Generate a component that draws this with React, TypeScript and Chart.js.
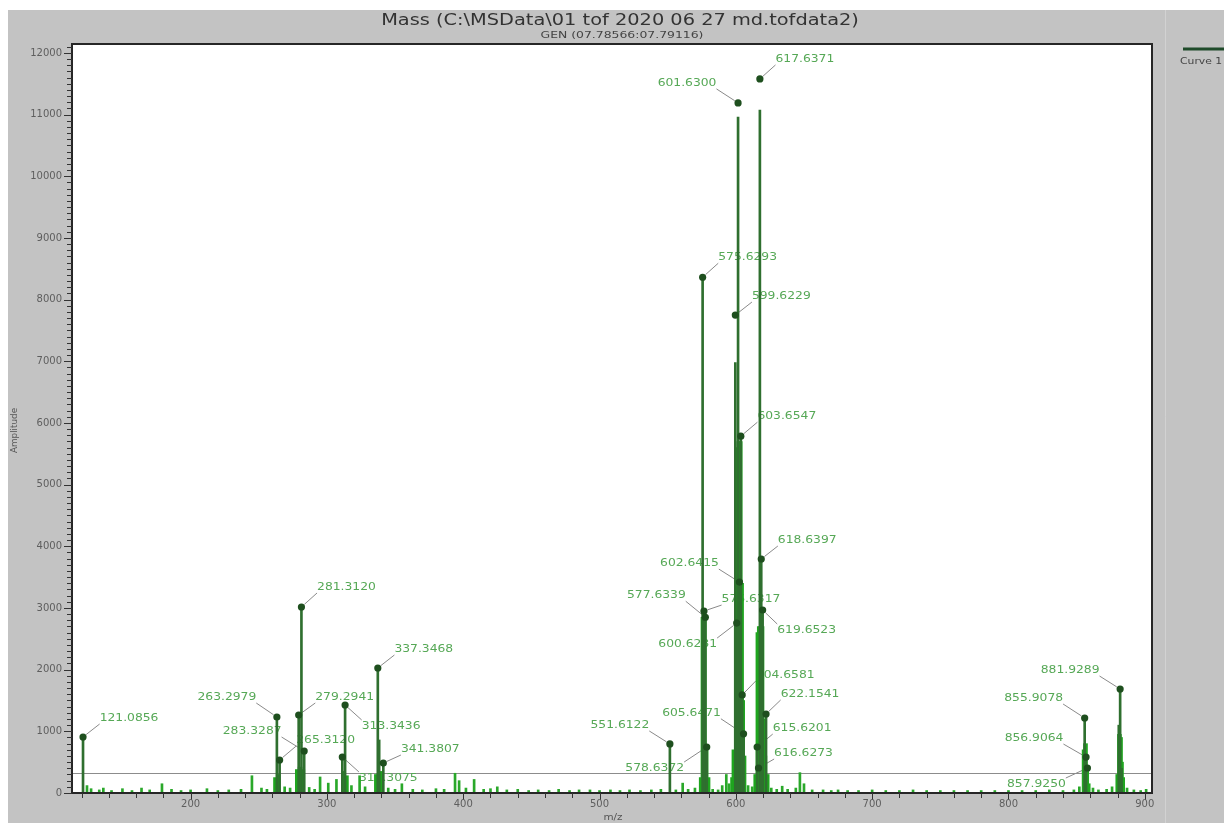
import React, { useEffect, useRef } from "react";
import { Chart, registerables } from "chart.js";

Chart.register(...registerables);

// ---------- text ----------
const TITLE = "Mass (C:\\MSData\\01 tof 2020 06 27 md.tofdata2)";
const SUBTITLE = "GEN (07.78566:07.79116)";
const X_TITLE = "m/z";
const Y_TITLE = "Amplitude";
const LEGEND_LABEL = "Curve 1";

// ---------- axes ----------
const X_MIN = 113;
const X_MAX = 905.3;
const Y_MIN = 0;
const Y_MAX = 12145;
const X_TICKS = [200, 300, 400, 500, 600, 700, 800, 900];
const X_MINOR_STEP = 20;
const Y_TICKS = [0, 1000, 2000, 3000, 4000, 5000, 6000, 7000, 8000, 9000, 10000, 11000, 12000];
const Y_MINOR_STEP = 100;
const THRESHOLD = 324;

// ---------- centroid sticks (dark green) ----------
const stemMz = [
  121.0856, 263.2979, 265.312, 279.2941, 281.312, 283.3287, 311.3075, 313.3436, 337.3468, 338.35,
  341.3807, 551.6122, 575.6293, 576.6317, 577.6339, 578.6372, 599.6229, 600.6231, 601.63, 602.6415,
  603.6547, 604.6581, 605.6471, 615.6201, 617.6371, 618.6397, 619.6523, 622.1541, 855.9078, 856.9064,
  880.93, 881.9289, 883.0,
];
const stemAmp = [
  908, 1232, 535, 1265, 3016, 681, 584, 1427, 2027, 860,
  486, 795, 8363, 2950, 2850, 745, 6980, 2755, 10960, 3420,
  5786, 1590, 960, 745, 11075, 3794, 2967, 1281, 1216, 583,
  1100, 1686, 400,
];

// ---------- profile clusters (bright green) ----------
const profileMz = [
  262.3, 264.3, 278.3, 280.3, 282.3, 312.3, 314.3, 336.3, 339.3, 574.6,
  575.9, 576.9, 578.2, 579.6, 597.6, 598.6, 600.3, 601.2, 602.2, 603.2,
  604.2, 605.0, 606.0, 614.6, 616.2, 617.2, 618.2, 619.2, 620.3, 621.3,
  623.0, 855.5, 856.5, 857.4, 858.5, 880.2, 881.4, 882.2, 882.9, 883.8,
];
const profileAmp = [
  250, 300, 380, 420, 380, 350, 280, 300, 350, 250,
  2850, 2850, 700, 250, 250, 700, 2700, 5600, 5700, 5700,
  3400, 1500, 600, 300, 2600, 2700, 2700, 2700, 1200, 600,
  300, 700, 800, 400, 150, 300, 950, 900, 500, 250,
];

// ---------- baseline noise (bright green) ----------
const noiseMz = [
  124, 127, 133, 136, 142, 150, 157, 164, 170, 179, 186, 193, 200, 212, 220, 228, 237, 245, 252, 256,
  269, 273, 287, 291, 295, 301, 307, 318, 324, 328, 345, 350, 355, 363, 370, 380, 386, 394, 397, 402,
  408, 415, 420, 425, 432, 440, 448, 455, 463, 470, 478, 485, 493, 500, 508, 515, 522, 530, 538, 545,
  556, 561, 565, 570, 583, 587, 590, 593, 595, 609, 612, 626, 630, 634, 638, 644, 647, 650, 656, 664,
  670, 675, 682, 690, 700, 710, 720, 730, 740, 750, 760, 770, 780, 790, 800, 810, 820, 830, 840, 848,
  852, 862, 866, 872, 876, 887, 892, 897, 901,
];
const noiseAmp = [
  120, 70, 50, 80, 40, 70, 40, 80, 50, 150, 60, 40, 50, 70, 40, 50, 60, 280, 80, 60,
  100, 80, 90, 60, 260, 160, 220, 120, 280, 100, 80, 60, 150, 60, 50, 70, 60, 320, 200, 80,
  220, 60, 70, 100, 50, 60, 40, 50, 40, 60, 40, 50, 50, 40, 50, 40, 50, 40, 50, 60,
  50, 160, 60, 80, 60, 50, 120, 300, 150, 120, 100, 80, 60, 110, 60, 80, 330, 150, 50, 50,
  40, 50, 40, 40, 50, 40, 40, 50, 40, 40, 40, 40, 40, 40, 40, 40, 40, 50, 40, 50,
  100, 80, 50, 60, 100, 80, 50, 40, 60,
];

// ---------- annotated peaks ----------
const peakMz = [
  121.0856, 263.2979, 265.312, 279.2941, 281.312, 283.3287, 311.3075, 313.3436, 337.3468, 341.3807,
  551.6122, 575.6293, 576.6317, 577.6339, 578.6372, 599.6229, 600.6231, 601.63, 602.6415, 603.6547,
  604.6581, 605.6471, 615.6201, 616.6273, 617.6371, 618.6397, 619.6523, 622.1541, 855.9078, 856.9064,
  857.925, 881.9289,
];
const peakAmp = [
  908, 1232, 535, 1265, 3016, 681, 584, 1427, 2027, 486,
  795, 8363, 2950, 2850, 745, 7750, 2755, 11190, 3420, 5786,
  1590, 960, 745, 405, 11578, 3794, 2967, 1281, 1216, 583,
  405, 1686,
];
// label placement relative to the marker, in pixels (layout only)
const labelDx = [
  46, -50, 46, 46, 45, -52, 46, 46, 46, 47,
  -50, 45, 47, -49, -52, 46, -49, -51, -50, 46,
  43, -52, 45, 45, 45, 46, 44, 44, -51, -52,
  -51, -50,
];
const labelDy = [
  -19, -20, -20, -18, -20, -20, 21, 21, -19, -14,
  -19, -20, -12, -22, 21, -19, 21, -20, -19, -20,
  -20, -21, -19, -15, -20, -19, 20, -20, -20, -19,
  16, -19,
];

const FONT = '"DejaVu Sans", Verdana, sans-serif';

function drawText(
  ctx: CanvasRenderingContext2D,
  s: string,
  x: number,
  y: number,
  size: number,
  color: string,
  align: CanvasTextAlign = "center",
  hs = 1
) {
  ctx.save();
  ctx.font = `${size}px ${FONT}`;
  ctx.fillStyle = color;
  ctx.textBaseline = "middle";
  ctx.textAlign = align;
  ctx.translate(x, y);
  ctx.scale(hs, 1);
  ctx.fillText(s, 0, 0);
  ctx.restore();
}

const decorPlugin = {
  id: "msDecor",
  beforeDraw(chart: any) {
    const { ctx, chartArea: a, width, height } = chart;
    ctx.save();
    ctx.fillStyle = "#c3c3c3";
    ctx.fillRect(0, 0, width, height);
    // separator to the legend panel
    ctx.strokeStyle = "#d2d2d2";
    ctx.lineWidth = 1;
    ctx.beginPath();
    ctx.moveTo(1157.5, 0);
    ctx.lineTo(1157.5, height);
    ctx.stroke();
    ctx.fillStyle = "#ffffff";
    ctx.fillRect(a.left, a.top, a.right - a.left, a.bottom - a.top);
    ctx.restore();
  },
  beforeDatasetsDraw(chart: any) {
    const { ctx, chartArea: a, scales } = chart;
    const xs = scales.x;
    const ys = scales.y;
    ctx.save();
    // threshold line
    const ty = Math.round(ys.getPixelForValue(THRESHOLD)) + 0.5;
    ctx.strokeStyle = "#8c8c8c";
    ctx.lineWidth = 1;
    ctx.beginPath();
    ctx.moveTo(a.left, ty);
    ctx.lineTo(a.right, ty);
    ctx.stroke();
    // peak labels + leader lines
    const size = 11;
    const hs = 1.12;
    ctx.font = `${size}px ${FONT}`;
    for (let i = 0; i < peakMz.length; i++) {
      const mx = xs.getPixelForValue(peakMz[i]);
      const my = ys.getPixelForValue(peakAmp[i]);
      const tx = mx + labelDx[i];
      const tyy = my + labelDy[i];
      const label = peakMz[i].toFixed(4);
      const hw = (ctx.measureText(label).width * hs) / 2;
      const sx = Math.sign(labelDx[i]);
      const sy = Math.sign(labelDy[i]);
      const ex = tx - sx * hw;
      const ey = tyy - sy * 6;
      const len = Math.hypot(ex - mx, ey - my);
      const ux = (ex - mx) / len;
      const uy = (ey - my) / len;
      ctx.strokeStyle = "#8a8a8a";
      ctx.lineWidth = 1;
      ctx.beginPath();
      ctx.moveTo(mx + ux * 4, my + uy * 4);
      ctx.lineTo(ex, ey);
      ctx.stroke();
      drawText(ctx, label, tx, tyy, size, "#56a856", "center", hs);
    }
    ctx.restore();
  },
  afterDraw(chart: any) {
    const { ctx, chartArea: a, scales } = chart;
    const xs = scales.x;
    const ys = scales.y;
    ctx.save();
    // plot frame
    ctx.strokeStyle = "#262626";
    ctx.lineWidth = 2;
    ctx.strokeRect(a.left, a.top, a.right - a.left, a.bottom - a.top);

    ctx.strokeStyle = "#333333";
    ctx.lineWidth = 1;
    // y minor + major ticks
    ctx.beginPath();
    for (let v = Y_MIN; v <= Y_MAX; v += Y_MINOR_STEP) {
      const y = Math.round(ys.getPixelForValue(v)) + 0.5;
      const major = Y_TICKS.includes(v);
      ctx.moveTo(a.left - (major ? 8 : 5), y);
      ctx.lineTo(a.left, y);
    }
    // x minor + major ticks
    const start = Math.ceil(X_MIN / X_MINOR_STEP) * X_MINOR_STEP;
    for (let v = start; v <= X_MAX; v += X_MINOR_STEP) {
      const x = Math.round(xs.getPixelForValue(v)) + 0.5;
      const major = X_TICKS.includes(v);
      ctx.moveTo(x, a.bottom);
      ctx.lineTo(x, a.bottom + (major ? 7 : 5));
    }
    ctx.stroke();

    // tick labels
    for (const v of Y_TICKS) {
      drawText(ctx, String(v), a.left - 10, ys.getPixelForValue(v), 10, "#5e5e5e", "right", 1);
    }
    for (const v of X_TICKS) {
      drawText(ctx, String(v), xs.getPixelForValue(v), a.bottom + 11, 10, "#5e5e5e", "center", 1);
    }

    // axis titles
    drawText(ctx, X_TITLE, (a.left + a.right) / 2 + 1, a.bottom + 25, 8, "#555555", "center", 1.3);
    ctx.save();
    ctx.translate(7, (a.top + a.bottom) / 2 + 12);
    ctx.rotate(-Math.PI / 2);
    drawText(ctx, Y_TITLE, 0, 0, 8, "#555555", "center", 1.1);
    ctx.restore();

    // title
    drawText(ctx, TITLE, 612, 11, 15, "#333333", "center", 1.29);
    drawText(ctx, SUBTITLE, 614, 26, 8, "#444444", "center", 1.55);

    // legend
    ctx.strokeStyle = "#1f4b2a";
    ctx.lineWidth = 3;
    ctx.beginPath();
    ctx.moveTo(1175, 39);
    ctx.lineTo(1216, 39);
    ctx.stroke();
    drawText(ctx, LEGEND_LABEL, 1172, 52, 9, "#444444", "left", 1.2);
    ctx.restore();
  },
};

export default function App() {
  const ref = useRef<HTMLCanvasElement>(null);
  useEffect(() => {
    if (!ref.current) return;
    const toXY = (xsArr: number[], ysArr: number[]) => xsArr.map((x, i) => ({ x, y: ysArr[i] }));
    const chart = new Chart(ref.current, {
      type: "bar",
      data: {
        datasets: [
          {
            type: "scatter",
            label: "markers",
            data: toXY(peakMz, peakAmp),
            pointRadius: 3.6,
            pointStyle: "circle",
            backgroundColor: "#1e4f1e",
            borderColor: "#1e4f1e",
            borderWidth: 0,
            order: 0,
          } as any,
          {
            type: "bar",
            label: "centroid",
            data: toXY(stemMz, stemAmp),
            backgroundColor: "#2f6f2f",
            barThickness: 2,
            grouped: false,
            order: 1,
          } as any,
          {
            type: "bar",
            label: "profile",
            data: toXY(profileMz, profileAmp),
            backgroundColor: "#1fa51f",
            barThickness: 4,
            grouped: false,
            order: 2,
          } as any,
          {
            type: "bar",
            label: "noise",
            data: toXY(noiseMz, noiseAmp),
            backgroundColor: "#2aa82a",
            barThickness: 2,
            grouped: false,
            order: 3,
          } as any,
        ],
      },
      options: {
        animation: false,
        responsive: false,
        layout: { padding: { top: 34, right: 72, left: 0, bottom: 0 } },
        plugins: { legend: { display: false }, tooltip: { enabled: false }, title: { display: false } },
        events: [],
        scales: {
          x: {
            type: "linear",
            min: X_MIN,
            max: X_MAX,
            offset: false,
            grid: { display: false },
            border: { display: false },
            ticks: { display: false },
            afterFit: (s: any) => {
              s.height = 30;
            },
          },
          y: {
            type: "linear",
            min: Y_MIN,
            max: Y_MAX,
            grid: { display: false },
            border: { display: false },
            ticks: { display: false },
            afterFit: (s: any) => {
              s.width = 64;
            },
          },
        },
      } as any,
      plugins: [decorPlugin],
    });
    return () => chart.destroy();
  }, []);
  return (
    <div style={{ position: "fixed", left: 8, top: 10, width: 1216, height: 813, overflow: "hidden" }}>
      <canvas ref={ref} width={1216} height={813} style={{ display: "block" }} />
    </div>
  );
}
